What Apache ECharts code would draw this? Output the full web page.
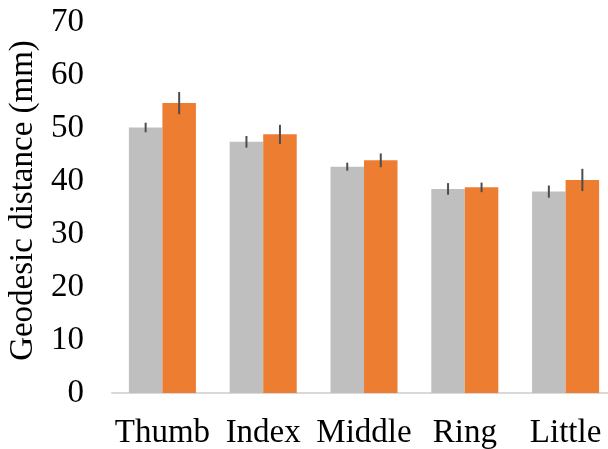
<!DOCTYPE html>
<html><head><meta charset="utf-8">
<script src="https://cdn.jsdelivr.net/npm/echarts@6/dist/echarts.min.js"></script>
<style>html,body{margin:0;padding:0;background:#fff}#c{width:608px;height:449px}</style>
</head><body><div id="c"></div>
<script>
var categories = ['Thumb', 'Index', 'Middle', 'Ring', 'Little'];
var grayMeans = [50.1, 47.4, 42.7, 38.5, 38.0];
var grayErr = [0.9, 1.1, 0.75, 1.1, 1.15];
var orangeMeans = [54.7, 48.8, 43.9, 38.8, 40.2];
var orangeErr = [2.1, 1.8, 1.3, 0.9, 2.1];
var yTicks = [0, 10, 20, 30, 40, 50, 60, 70];

var FONT = '"Liberation Serif", "Times New Roman", serif';
var CAT_GAP = 0.335;

function errData(means, errs) {
  return means.map(function (m, i) { return [i, m - errs[i], m + errs[i]]; });
}
function errSeries(means, errs, side) {
  return {
    type: 'custom',
    data: errData(means, errs),
    z: 5,
    renderItem: function (params, api) {
      var band = api.size([1, 0])[0];
      var barW = band * (1 - CAT_GAP) / 2;
      var lo = api.coord([api.value(0), api.value(1)]);
      var hi = api.coord([api.value(0), api.value(2)]);
      var x = lo[0] + side * barW / 2;
      return {
        type: 'line',
        shape: { x1: x, y1: lo[1], x2: x, y2: hi[1] },
        style: { stroke: '#4D4D4D', lineWidth: 2 }
      };
    }
  };
}

var chart = echarts.init(document.getElementById('c'), null, { renderer: 'canvas' });
chart.setOption({
  animation: false,
  backgroundColor: '#ffffff',
  grid: { left: 112, top: 22, width: 504, height: 371, containLabel: false, outerBoundsMode: 'none' },
  xAxis: {
    type: 'category',
    data: categories,
    axisLine: { lineStyle: { color: '#D9D9D9', width: 2 } },
    axisTick: { show: false },
    axisLabel: { color: '#000', fontFamily: FONT, fontSize: 33, margin: 24, interval: 0 }
  },
  yAxis: {
    type: 'value',
    min: yTicks[0],
    max: yTicks[yTicks.length - 1],
    interval: 10,
    name: 'Geodesic distance (mm)',
    nameLocation: 'middle',
    nameGap: 71,
    nameTextStyle: { color: '#000', fontFamily: FONT, fontSize: 33, padding: [0, 0, 0, 14] },
    axisLine: { show: false },
    axisTick: { show: false },
    splitLine: { show: false },
    axisLabel: { color: '#000', fontFamily: FONT, fontSize: 33, margin: 28 }
  },
  series: [
    { type: 'bar', data: grayMeans, barGap: '0%', barCategoryGap: '33.5%', itemStyle: { color: '#BFBFBF' } },
    { type: 'bar', data: orangeMeans, barGap: '0%', barCategoryGap: '33.5%', itemStyle: { color: '#ED7D31' } },
    errSeries(grayMeans, grayErr, -1),
    errSeries(orangeMeans, orangeErr, 1)
  ]
});
</script></body></html>
